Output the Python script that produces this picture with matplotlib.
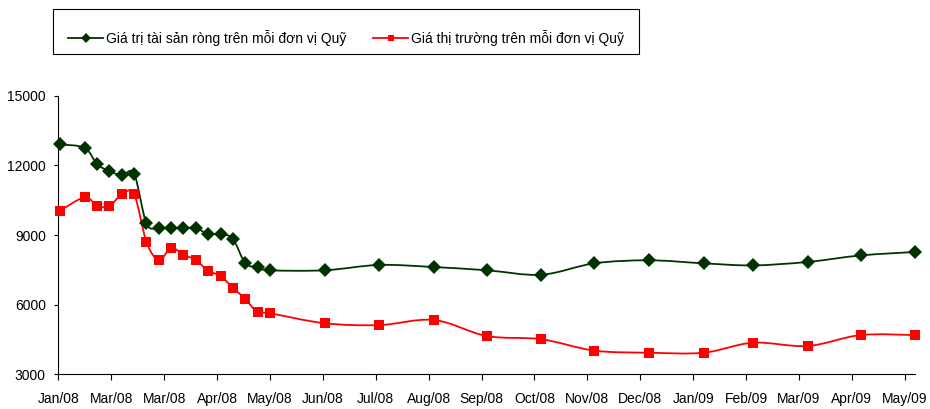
"""
Biểu đồ NAV và giá thị trường trên mỗi đơn vị Quỹ (01/2008 - 05/2009)
"""

from datetime import date, timedelta

import matplotlib
matplotlib.use("Agg")
import matplotlib.pyplot as plt
import matplotlib.dates as mdates
from matplotlib.path import Path
from matplotlib.patches import PathPatch, Rectangle
from matplotlib.lines import Line2D
import numpy as np

plt.rcParams["font.family"] = ["Liberation Sans", "DejaVu Sans"]

# ── Dữ liệu ────────────────────────────────────────────────────────────────
ngay = [
    "2008-02-01", "2008-02-15", "2008-02-22", "2008-02-29", "2008-03-07",
    "2008-03-14", "2008-03-21", "2008-03-28", "2008-04-04", "2008-04-11",
    "2008-04-18", "2008-04-25", "2008-05-02", "2008-05-09", "2008-05-16",
    "2008-05-23", "2008-05-30", "2008-06-30", "2008-07-31", "2008-08-31",
    "2008-09-30", "2008-10-31", "2008-11-30", "2008-12-31", "2009-01-31",
    "2009-02-28", "2009-03-31", "2009-04-30", "2009-05-31",
]
nav = [
    12900, 12750, 12050, 11750, 11570, 11630, 9500, 9300, 9300, 9300,
    9300, 9040, 9040, 8830, 7790, 7610, 7480, 7480, 7710, 7620,
    7480, 7290, 7780, 7910, 7780, 7690, 7840, 8120, 8270,
]
gia_tt = [
    10050, 10620, 10250, 10250, 10750, 10750, 8700, 7920, 8440, 8150,
    7920, 7460, 7230, 6730, 6240, 5680, 5630, 5200, 5120, 5340,
    4650, 4510, 4020, 3930, 3930, 4360, 4220, 4690, 4690,
]
nhan_truc_x = [
    "Jan/08", "Mar/08", "Mar/08", "Apr/08", "May/08", "Jun/08", "Jul/08",
    "Aug/08", "Sep/08", "Oct/08", "Nov/08", "Dec/08", "Jan/09", "Feb/09",
    "Mar/09", "Apr/09", "May/09",
]
ten_nav = "Giá trị tài sản ròng trên mỗi đơn vị Quỹ"
ten_gia = "Giá thị trường trên mỗi đơn vị Quỹ"

XANH = "#003300"
DO = "#FF0000"


def duong_cong(x, y):
    # đường cong mượt kiểu Excel (Bezier qua từng điểm)
    pts = np.column_stack([x, y]).astype(float)
    n = len(pts)
    verts = [pts[0]]
    codes = [Path.MOVETO]
    for i in range(n - 1):
        p0 = pts[max(i - 1, 0)]
        p1 = pts[i]
        p2 = pts[i + 1]
        p3 = pts[min(i + 2, n - 1)]
        verts += [p1 + (p2 - p0) / 6, p2 - (p3 - p1) / 6, p2]
        codes += [Path.CURVE4] * 3
    return Path(verts, codes)


W, H = 930, 409
fig = plt.figure(figsize=(W / 100, H / 100), dpi=100)
ax = fig.add_axes([58.3 / W, 1 - 374.3 / H, (915.3 - 58.3) / W, (374.3 - 95.7) / H])

x = mdates.date2num([date.fromisoformat(d) for d in ngay])

for ys, mau, mk, ms in [(nav, XANH, "D", 7), (gia_tt, DO, "s", 6.5)]:
    ax.add_patch(PathPatch(duong_cong(x, ys), facecolor="none",
                           edgecolor=mau, linewidth=1.3, zorder=2))
    ax.plot(x, ys, linestyle="none", marker=mk, markersize=ms,
            color=mau, markeredgewidth=0, zorder=3, clip_on=False)

bat_dau = date(2008, 1, 31)
ax.set_xlim(mdates.date2num(bat_dau), mdates.date2num(date(2009, 5, 31)))
ax.set_ylim(3000, 15000)
ax.set_xticks([mdates.date2num(bat_dau + timedelta(days=30 * k))
               for k in range(len(nhan_truc_x))])
ax.set_xticklabels(nhan_truc_x)
ax.set_yticks(range(3000, 15001, 3000))

for s in ["top", "right"]:
    ax.spines[s].set_visible(False)
for s in ["left", "bottom"]:
    ax.spines[s].set_linewidth(0.8)
    ax.spines[s].set_color("black")
ax.tick_params(axis="x", length=4, width=0.8, pad=8.5, labelsize=10, colors="black")
ax.tick_params(axis="y", length=3, width=0.8, pad=6, labelsize=10, colors="black")

# chú thích
handles = [
    Line2D([], [], color=XANH, lw=1.3, marker="D", markersize=5, markeredgewidth=0),
    Line2D([], [], color=DO, lw=1.3, marker="s", markersize=5, markeredgewidth=0),
]
fig.legend(handles, [ten_nav, ten_gia], ncol=2, loc="center left",
           bbox_to_anchor=(68.3 / W, 1 - 38.3 / H), frameon=False,
           fontsize=10, borderpad=0, borderaxespad=0,
           handlelength=2.5, handletextpad=0.25, columnspacing=1.9)
fig.add_artist(Rectangle((52.7 / W, 1 - 54.3 / H), (639 - 52.7) / W, 45 / H,
                         transform=fig.transFigure, fill=False,
                         edgecolor="black", linewidth=0.8))

fig.savefig("out.png", dpi=100)
